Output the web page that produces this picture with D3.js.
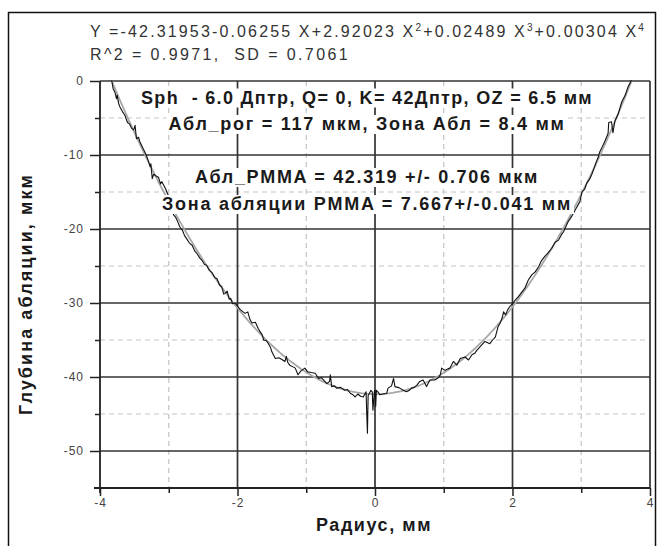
<!DOCTYPE html>
<html>
<head>
<meta charset="utf-8">
<script src="https://cdnjs.cloudflare.com/ajax/libs/d3/7.8.5/d3.min.js"></script>
<style>
body { margin: 0; background: #fff; }
svg { display: block; font-family: "Liberation Sans", Arial, sans-serif; }
text { white-space: pre; }
</style>
</head>
<body>
<svg class="scene"></svg>
<script>

//
// data
//

var xTicks = [-4, -2, 0, 2, 4];
var xMinor = [-3, -1, 1, 3];
var yTicks = [0, -10, -20, -30, -40, -50];
var yMinor = [-5, -15, -25, -35, -45];

// fit: Y = c0 + c1 X + c2 X^2 + c3 X^3 + c4 X^4
var fitCoef = [-42.31953, -0.06255, 2.92023, 0.02489, 0.00304];
var fitRange = [-3.83, 3.73];

var profileX = [-3.83, -3.81, -3.78, -3.76, -3.75, -3.73, -3.71, -3.67, -3.64, -3.6,
    -3.57, -3.54, -3.51, -3.49, -3.47, -3.44, -3.42, -3.38, -3.35, -3.32,
    -3.29, -3.27, -3.26, -3.24, -3.22, -3.19, -3.15, -3.12, -3.1, -3.05,
    -3.0, -2.96, -2.93, -2.9, -2.87, -2.84, -2.8, -2.77, -2.74, -2.7,
    -2.66, -2.62, -2.59, -2.55, -2.52, -2.48, -2.45, -2.41, -2.37, -2.33,
    -2.3, -2.26, -2.23, -2.2, -2.18, -2.15, -2.12, -2.1, -2.07, -2.04,
    -2.01, -1.96, -1.92, -1.89, -1.85, -1.82, -1.79, -1.74, -1.7, -1.67,
    -1.64, -1.62, -1.58, -1.55, -1.52, -1.5, -1.45, -1.4, -1.36, -1.31,
    -1.29, -1.27, -1.24, -1.2, -1.16, -1.12, -1.08, -1.05, -1.02, -0.98,
    -0.93, -0.87, -0.82, -0.78, -0.75, -0.7, -0.66, -0.65, -0.63, -0.59,
    -0.56, -0.5, -0.44, -0.4, -0.36, -0.32, -0.29, -0.25, -0.21, -0.17,
    -0.13, -0.12, -0.11, -0.1, -0.08, -0.06, -0.04, -0.03, -0.01, 0.0,
    0.01, 0.02, 0.05, 0.07, 0.12, 0.17, 0.19, 0.24, 0.27, 0.29,
    0.33, 0.36, 0.41, 0.46, 0.5, 0.53, 0.57, 0.61, 0.65, 0.7,
    0.75, 0.8, 0.87, 0.92, 0.95, 0.97, 1.02, 1.06, 1.09, 1.14,
    1.19, 1.24, 1.31, 1.36, 1.41, 1.45, 1.48, 1.55, 1.6, 1.67,
    1.71, 1.75, 1.79, 1.82, 1.85, 1.87, 1.9, 1.93, 1.96, 2.01,
    2.04, 2.08, 2.13, 2.18, 2.23, 2.28, 2.33, 2.38, 2.42, 2.47,
    2.52, 2.57, 2.62, 2.67, 2.71, 2.74, 2.78, 2.81, 2.86, 2.92,
    2.98, 3.01, 3.05, 3.08, 3.12, 3.15, 3.19, 3.22, 3.25, 3.27,
    3.31, 3.35, 3.39, 3.4, 3.44, 3.46, 3.49, 3.54, 3.57, 3.59,
    3.64, 3.68, 3.73];
var profileY = [0.1, -1.0, -1.6, -2.4, -1.9, -3.0, -3.5, -4.2, -4.6, -5.6,
    -5.8, -6.4, -6.6, -6.0, -7.8, -7.6, -8.2, -9.0, -9.55, -10.2,
    -11.0, -11.6, -11.2, -13.2, -12.6, -12.8, -13.0, -13.9, -13.6, -14.5,
    -15.6, -16.6, -18.1, -18.4, -19.0, -19.7, -20.2, -20.9, -21.3, -21.9,
    -22.2, -23.0, -23.3, -23.9, -24.2, -24.8, -24.9, -25.6, -25.9, -26.6,
    -26.7, -27.6, -27.8, -28.8, -28.7, -28.4, -29.5, -29.4, -30.1, -30.0,
    -30.3, -30.9, -31.2, -31.4, -31.2, -32.2, -32.7, -32.6, -33.4, -33.9,
    -34.3, -35.0, -35.1, -35.5, -36.0, -36.6, -37.5, -37.4, -37.6, -37.9,
    -37.2, -38.0, -38.4, -38.6, -38.8, -39.7, -39.2, -39.0, -38.8, -39.3,
    -39.4, -39.5, -40.2, -40.1, -40.4, -40.9, -40.6, -39.7, -41.3, -41.2,
    -41.5, -41.4, -41.8, -41.7, -42.2, -42.4, -42.7, -42.3, -42.6, -42.7,
    -42.0, -45.0, -47.6, -42.5, -42.2, -41.8, -42.0, -44.5, -42.0, -41.8,
    -44.0, -41.8, -42.1, -42.4, -42.3, -42.2, -41.5, -41.2, -40.2, -41.3,
    -41.4, -41.5, -41.8, -42.0, -41.8, -41.5, -41.4, -41.1, -40.6, -40.4,
    -41.3, -40.4, -40.4, -40.1, -39.7, -38.8, -39.1, -38.9, -38.8, -37.9,
    -38.4, -37.5, -37.3, -37.7, -37.0, -36.8, -36.4, -35.7, -35.2, -35.5,
    -35.0, -34.6, -33.2, -32.7, -32.0, -31.2, -31.6, -30.9, -30.5, -30.0,
    -29.6, -29.2, -28.6, -28.0, -26.9, -26.2, -25.8, -25.1, -24.3, -23.7,
    -23.2, -22.6, -21.8, -21.5, -20.8, -20.4, -19.6, -19.0, -18.3, -17.3,
    -16.3, -15.0, -14.6, -13.8, -13.3, -12.7, -11.7, -10.9, -10.2, -9.55,
    -8.8, -8.0, -7.1, -5.6, -5.5, -7.0, -5.4, -4.4, -3.4, -2.8,
    -1.9, -0.8, 0.1];

var notes = [
    "Sph  - 6.0 Дптр, Q= 0, K= 42Дптр, OZ = 6.5 мм",
    "Абл_рог = 117 мкм, Зона Абл = 8.4 мм",
    "Абл_PMMA = 42.319 +/- 0.706 мкм",
    "Зона абляции PMMA = 7.667+/-0.041 мм"
];
var noteBase = [103.5, 130, 183, 210];
var noteWidth = [452, 397, 344, 410];

var eqParts = ["Y =-42.31953-0.06255 X+2.92023 X", "+0.02489 X", "+0.00304 X"];
var eqPowers = ["2", "3", "4"];
var statLine = "R^2 = 0.9971,  SD = 0.7061";

var yTitle = "Глубина абляции, мкм";
var xTitle = "Радиус, мм";

//
// scene
//

var width = 660,
    height = 546;

var scene = d3.select(".scene")
    .attr("width", width)
    .attr("height", height);

var x = d3.scaleLinear().domain([-4, 4]).range([100, 650]);
var y = d3.scaleLinear().domain([-55, 0]).range([488, 81]);

// spread letters so a text gets the width seen in the picture
function fit_width(t, w) {
    var n = t.text().length;
    var len = t.node().getComputedTextLength();
    t.attr("letter-spacing", (w - len) / n);
}

// outer frame
scene.append("rect")
    .attr("x", 8.5)
    .attr("y", 12.5)
    .attr("width", 647)
    .attr("height", 600)
    .attr("fill", "none")
    .attr("stroke", "#111")
    .attr("stroke-width", 1.5);

//
// grid
//

var grid = scene.append("g");
grid.selectAll("line.vminor")
    .data(xMinor)
    .enter().append("line")
    .attr("x1", x).attr("x2", x)
    .attr("y1", y(0)).attr("y2", y(-55))
    .attr("stroke", "#c4c4c4")
    .attr("stroke-width", 1.2)
    .attr("stroke-dasharray", "5,4");
grid.selectAll("line.hminor")
    .data(yMinor)
    .enter().append("line")
    .attr("x1", x(-4)).attr("x2", x(4))
    .attr("y1", y).attr("y2", y)
    .attr("stroke", "#c4c4c4")
    .attr("stroke-width", 1.2)
    .attr("stroke-dasharray", "5,4");
grid.selectAll("line.vmajor")
    .data([-2, 0, 2, 4])
    .enter().append("line")
    .attr("x1", x).attr("x2", x)
    .attr("y1", y(0)).attr("y2", y(-55))
    .attr("stroke", "#333")
    .attr("stroke-width", 1.7);
grid.selectAll("line.hmajor")
    .data([0, -10, -20, -30, -40, -50])
    .enter().append("line")
    .attr("x1", x(-4)).attr("x2", x(4))
    .attr("y1", y).attr("y2", y)
    .attr("stroke", "#333")
    .attr("stroke-width", 1.7);

//
// curves
//

var fitX = d3.range(fitRange[0], fitRange[1] + 0.001, 0.02);
function fit(v) {
    return fitCoef.reduce(function (s, c, i) { return s + c * Math.pow(v, i); }, 0);
}

scene.append("path")
    .datum(fitX)
    .attr("fill", "none")
    .attr("stroke", "#a8a8a8")
    .attr("stroke-width", 1.8)
    .attr("d", d3.line()
        .x(function (d) { return x(d); })
        .y(function (d) { return y(fit(d)); }));

scene.append("path")
    .datum(d3.range(profileX.length))
    .attr("fill", "none")
    .attr("stroke", "#111")
    .attr("stroke-width", 1.1)
    .attr("stroke-linejoin", "round")
    .attr("d", d3.line()
        .x(function (i) { return x(profileX[i]); })
        .y(function (i) { return y(profileY[i]); }));

//
// axes
//

var axisStyle = function (g) {
    g.select(".domain").remove();
    g.selectAll("line").attr("stroke", "#222").attr("stroke-width", 1.5);
    g.selectAll("text")
        .attr("fill", "#444")
        .attr("font-size", 12)
        .attr("letter-spacing", 1)
        .attr("font-family", "Liberation Sans, Arial, sans-serif");
};

scene.append("g")
    .attr("transform", "translate(" + x(-4) + ",0)")
    .call(d3.axisLeft(y).tickValues(yMinor).tickSize(5).tickFormat(""))
    .call(axisStyle);
scene.append("g")
    .attr("transform", "translate(" + x(-4) + ",0)")
    .call(d3.axisLeft(y).tickValues(yTicks).tickSize(10).tickPadding(6)
        .tickFormat(function (d) { return String(d); }))
    .call(axisStyle);
scene.append("g")
    .attr("transform", "translate(0," + y(-55) + ")")
    .call(d3.axisBottom(x).tickValues(xMinor).tickSize(5).tickFormat(""))
    .call(axisStyle);
scene.append("g")
    .attr("transform", "translate(0," + y(-55) + ")")
    .call(d3.axisBottom(x).tickValues(xTicks).tickSize(8).tickPadding(2)
        .tickFormat(function (d) { return String(d); }))
    .call(axisStyle);

// axis lines
scene.append("line")
    .attr("x1", x(-4)).attr("x2", x(-4))
    .attr("y1", y(0)).attr("y2", y(-55) + 5)
    .attr("stroke", "#222").attr("stroke-width", 1.8);
scene.append("line")
    .attr("x1", x(-4) - 6).attr("x2", x(4))
    .attr("y1", y(-55)).attr("y2", y(-55))
    .attr("stroke", "#222").attr("stroke-width", 1.8);

//
// annotations
//

notes.forEach(function (s, i) {
    var g = scene.append("g");
    var box = g.append("rect").attr("fill", "#fff");
    var t = g.append("text")
        .attr("x", 367)
        .attr("y", noteBase[i])
        .attr("text-anchor", "middle")
        .attr("font-size", 18)
        .attr("font-weight", "bold")
        .attr("fill", "#1a1a1a")
        .text(s);
    fit_width(t, noteWidth[i]);
    var b = t.node().getBBox();
    box.attr("x", b.x - 2).attr("y", b.y + 1)
        .attr("width", b.width + 4).attr("height", b.height - 1);
});

// equation above the plot
var eq = scene.append("text")
    .attr("x", 90)
    .attr("y", 37)
    .attr("font-size", 16)
    .attr("fill", "#333");
eqParts.forEach(function (p, i) {
    eq.append("tspan").attr("dy", i === 0 ? 0 : 6).text(p);
    eq.append("tspan").attr("dy", -6).attr("font-size", 10).text(eqPowers[i]);
});
fit_width(eq, 556);

var r2 = scene.append("text")
    .attr("x", 90)
    .attr("y", 60)
    .attr("font-size", 16)
    .attr("fill", "#333")
    .text(statLine);
fit_width(r2, 260);

//
// axis titles
//

var yt = scene.append("text")
    .attr("transform", "translate(32,294) rotate(-90)")
    .attr("text-anchor", "middle")
    .attr("font-size", 18)
    .attr("font-weight", "bold")
    .attr("fill", "#1a1a1a")
    .text(yTitle);
fit_width(yt, 242);

var xt = scene.append("text")
    .attr("x", 374)
    .attr("y", 531)
    .attr("text-anchor", "middle")
    .attr("font-size", 18)
    .attr("font-weight", "bold")
    .attr("fill", "#1a1a1a")
    .text(xTitle);
fit_width(xt, 116);

</script>
</body>
</html>
